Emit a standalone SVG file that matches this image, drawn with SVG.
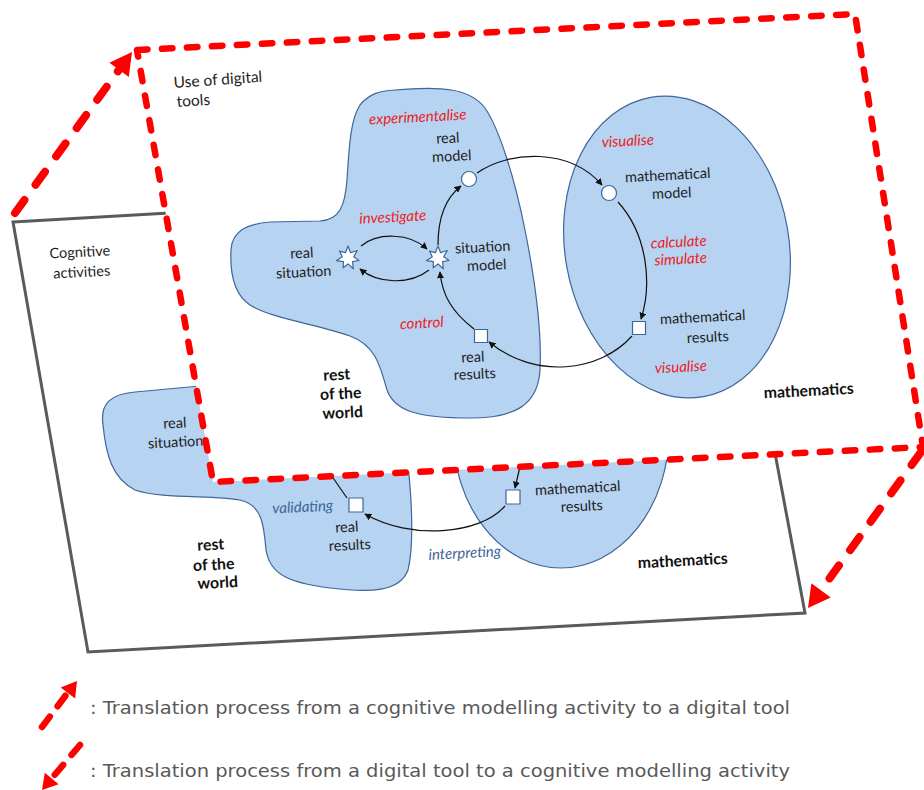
<svg xmlns="http://www.w3.org/2000/svg" width="924" height="790" viewBox="0 0 924 790">
<defs>
<style>
.lbl{font-family:Lato,"Open Sans","Liberation Sans",sans-serif;font-size:14.5px;fill:#1e1e1e;text-anchor:middle}
.lft{text-anchor:start;font-size:15.5px}
.red{fill:#ec1c24;font-style:italic;font-size:15px}
.blu{fill:#3e6596;font-style:italic;font-size:15px}
.bold{font-weight:bold;font-size:15.8px;fill:#111}
.blob{fill:#b6d3f1;stroke:#3f6699;stroke-width:1.2}
.node{fill:#fff;stroke:#3f6699;stroke-width:1.2;stroke-linejoin:round}
.con{fill:none;stroke:#111;stroke-width:1.2}
.arr{marker-end:url(#ah)}
.dash{fill:none;stroke:#ff0000;stroke-width:6.5;stroke-dasharray:10.5 14.5;stroke-linecap:round;stroke-linejoin:round}
.big{fill:none;stroke:#ff0000;stroke-width:8;stroke-dasharray:16 19;stroke-linecap:round}
.small{fill:none;stroke:#ff0000;stroke-width:6.5;stroke-dasharray:13 13;stroke-linecap:round}
.head{fill:#ff0000}
.leg{font-family:"DejaVu Sans",Verdana,sans-serif;font-size:17.5px;fill:#595959}
</style>
<marker id="ah" viewBox="0 0 10 10" refX="9" refY="5" markerWidth="7" markerHeight="7" markerUnits="userSpaceOnUse" orient="auto"><path d="M0,0 L10,5 L0,10 Z" fill="#111"/></marker>
<path id="star" d="M0,-12 L2.6,-5.3 L9.3,-7.5 L5.7,-1.3 L11,2.5 L4.6,3.7 L5.3,10.8 L0,5.9 L-4.8,9.8 L-4.6,3.7 L-11.7,2.7 L-5.7,-1.3 L-8.5,-6.9 L-2.6,-5.3 Z"/>
</defs>

<!-- Back panel: cognitive activities -->
<g id="cognitive-panel">
<polygon points="13,222 724,181 805,613 88,652" fill="#fff" stroke="#5a5a5a" stroke-width="3"/>
<text class="lbl" x="80" y="257" font-size="15.5" transform="rotate(-3 80 257)">Cognitive</text>
<text class="lbl" x="82" y="277" font-size="15.5" transform="rotate(-3 82 277)">activities</text>
</g>
<g id="back-rest-of-world">
<path class="blob" d="M 200,386 L 135,392 C 110,394 100,404 103,425 C 106,455 112,478 135,490 C 160,499 215,495 240,500 C 262,505 264,525 266,550 C 270,575 290,583 330,588 C 370,593 400,592 408,570 C 414,545 412,500 407,455 Z"/>
<text class="lbl" x="175" y="428" transform="rotate(-3 175 428)">real</text>
<text class="lbl" x="176" y="447" transform="rotate(-3 176 447)">situation</text>
<text class="lbl bold" x="211" y="550" transform="rotate(-3 211 550)">rest</text>
<text class="lbl bold" x="214" y="570" transform="rotate(-3 214 570)">of the</text>
<text class="lbl bold" x="218" y="588" transform="rotate(-3 218 588)">world</text>
</g>
<g id="back-mathematics">
<ellipse class="blob" cx="561" cy="432" rx="108" ry="136"/>
<text class="lbl bold" x="683" y="566" transform="rotate(-3 683 566)">mathematics</text>
</g>
<g id="back-real-results">
<rect class="node" x="349" y="498" width="14" height="14"/>
<text class="lbl" x="347" y="532" transform="rotate(-3 347 532)">real</text>
<text class="lbl" x="350" y="550" transform="rotate(-3 350 550)">results</text>
</g>
<g id="back-math-results">
<rect class="node" x="506" y="490" width="14" height="14"/>
<text class="lbl" x="578" y="493" transform="rotate(-3 578 493)">mathematical</text>
<text class="lbl" x="582" y="511" transform="rotate(-3 582 511)">results</text>
</g>
<g id="back-connectors">
<path class="con arr" d="M 505,506 C 480,535 410,540 365,514"/>
<path class="con arr" d="M 522,458 L 515,488"/>
<path class="con" d="M 322,462 L 347,498"/>
<text class="lbl blu" x="303" y="512" transform="rotate(-3 303 512)">validating</text>
<text class="lbl blu" x="465" y="558" transform="rotate(-3 465 558)">interpreting</text>
</g>

<!-- Front panel: use of digital tools -->
<g id="digital-panel">
<polygon points="137,50 855,14 923,447 213,482" fill="#fff"/>
<text class="lbl lft" x="174" y="88" transform="rotate(-4 174 88)">Use of digital</text>
<text class="lbl lft" x="177" y="107" transform="rotate(-4 177 107)">tools</text>
</g>
<g id="rest-of-world">
<path class="blob" d="M 395,90 C 440,86 470,88 485,108 C 500,130 515,180 525,230 C 535,280 542,330 540,370 C 538,405 515,418 470,418 C 420,418 395,412 387,390 C 380,365 375,345 350,336 C 320,325 270,318 250,305 C 232,293 230,270 231,250 C 232,232 245,224 270,222 L 320,221 C 340,220 345,205 347,180 C 349,150 350,120 360,105 C 370,93 380,91 395,90 Z"/>
<text class="lbl bold" x="337" y="380" transform="rotate(-3 337 380)">rest</text>
<text class="lbl bold" x="341" y="399" transform="rotate(-3 341 399)">of the</text>
<text class="lbl bold" x="343" y="418" transform="rotate(-3 343 418)">world</text>
</g>
<g id="mathematics">
<ellipse class="blob" cx="677" cy="247" rx="112" ry="152" transform="rotate(-10 677 247)"/>
<text class="lbl bold" x="809" y="396" transform="rotate(-3 809 396)">mathematics</text>
</g>
<g id="real-situation">
<use href="#star" class="node" x="348" y="258"/>
<text class="lbl" x="302" y="258" transform="rotate(-3 302 258)">real</text>
<text class="lbl" x="304" y="277" transform="rotate(-3 304 277)">situation</text>
</g>
<g id="situation-model">
<use href="#star" class="node" x="438" y="258"/>
<text class="lbl" x="483" y="252" transform="rotate(-3 483 252)">situation</text>
<text class="lbl" x="487" y="270" transform="rotate(-3 487 270)">model</text>
</g>
<g id="real-model">
<circle class="node" cx="469" cy="179" r="7.5"/>
<text class="lbl" x="448" y="143" transform="rotate(-3 448 143)">real</text>
<text class="lbl" x="452" y="161" transform="rotate(-3 452 161)">model</text>
</g>
<g id="mathematical-model">
<circle class="node" cx="609" cy="193" r="7.5"/>
<text class="lbl" x="668" y="180" transform="rotate(-3 668 180)">mathematical</text>
<text class="lbl" x="672" y="198" transform="rotate(-3 672 198)">model</text>
</g>
<g id="mathematical-results">
<rect class="node" x="632.5" y="321.5" width="13" height="13"/>
<text class="lbl" x="703" y="322" transform="rotate(-3 703 322)">mathematical</text>
<text class="lbl" x="708" y="342" transform="rotate(-3 708 342)">results</text>
</g>
<g id="real-results">
<rect class="node" x="474.5" y="329.5" width="13" height="13"/>
<text class="lbl" x="473" y="362" transform="rotate(-3 473 362)">real</text>
<text class="lbl" x="475" y="379" transform="rotate(-3 475 379)">results</text>
</g>
<g id="connectors">
<path class="con arr" d="M 361,246 C 378,232 410,233 427,249"/>
<path class="con arr" d="M 429,270 C 410,285 378,284 360,269"/>
<path class="con arr" d="M 438,245 C 438,215 448,196 461,186"/>
<path class="con arr" d="M 477,173 C 510,150 570,148 602,185"/>
<path class="con arr" d="M 618,202 C 648,235 652,285 641,319"/>
<path class="con arr" d="M 632,336 C 600,372 535,380 489,342"/>
<path class="con arr" d="M 474,329 C 452,312 442,295 440,272"/>
<text class="lbl red" x="418" y="122" transform="rotate(-3 418 122)">experimentalise</text>
<text class="lbl red" x="393" y="222" transform="rotate(-3 393 222)">investigate</text>
<text class="lbl red" x="422" y="328" transform="rotate(-3 422 328)">control</text>
<text class="lbl red" x="628" y="146" transform="rotate(-3 628 146)">visualise</text>
<text class="lbl red" x="679" y="247" transform="rotate(-3 679 247)">calculate</text>
<text class="lbl red" x="681" y="264" transform="rotate(-3 681 264)">simulate</text>
<text class="lbl red" x="681" y="372" transform="rotate(-3 681 372)">visualise</text>
</g>
<g id="digital-panel-border">
<path class="dash" d="M 137,50 L 855,14 L 923,447 L 213,482 Z"/>
</g>

<!-- Translation arrows -->
<g id="translation-arrows">
<path class="big" d="M 15,213 L 121,67"/>
<polygon class="head" points="132,52 128.8,76.9 109.4,62.7"/>
<path class="big" d="M 921,452 L 819,593"/>
<polygon class="head" points="808,608 830.7,597.4 811.4,583.2"/>
</g>

<!-- Legend -->
<g id="legend">
<path class="small" d="M 42,727 L 69,691"/>
<polygon class="head" points="77,681 75.1,698.4 60.7,687.5"/>
<text class="leg" x="90" y="714" textLength="700" lengthAdjust="spacingAndGlyphs">: Translation process from a cognitive modelling activity to a digital tool</text>
<path class="small" d="M 80,745 L 52,778"/>
<polygon class="head" points="42,790 58.6,784.3 44.8,772.7"/>
<text class="leg" x="90" y="777" textLength="700" lengthAdjust="spacingAndGlyphs">: Translation process from a digital tool to a cognitive modelling activity</text>
</g>
</svg>
